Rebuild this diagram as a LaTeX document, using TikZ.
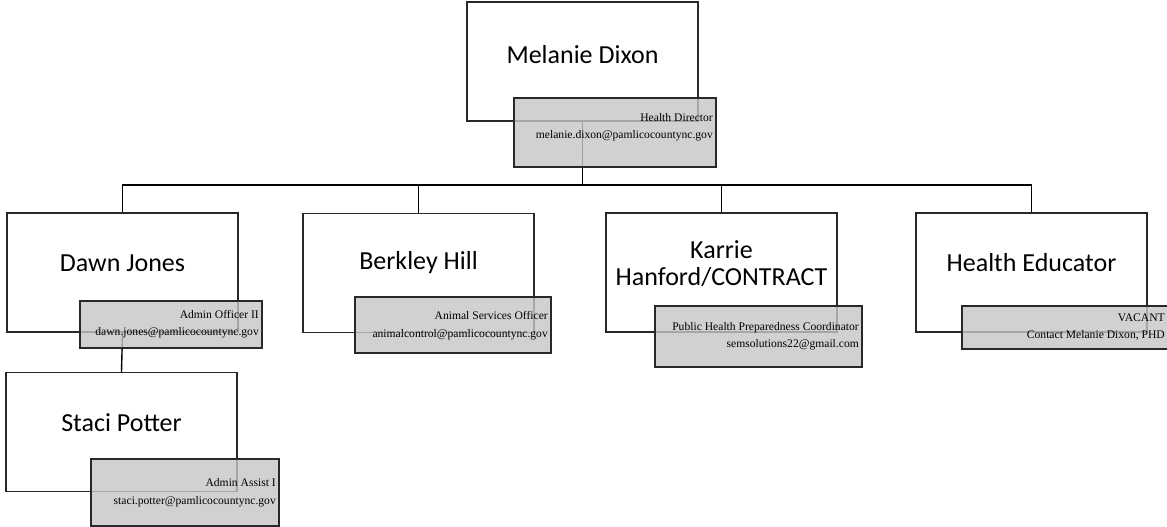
\documentclass[tikz,border=0pt]{standalone}
\usepackage{fontspec}
\setmainfont{Liberation Serif}
\newfontfamily\namefont{Carlito}
\definecolor{boxline}{RGB}{40,40,40}
\definecolor{titlegray}{RGB}{198,198,198}

\begin{document}
\begin{tikzpicture}[x=1pt,y=-1pt,
    person/.style={draw=boxline, line width=1.4pt, fill=white, rectangle, inner sep=0pt,
      minimum width=231pt, minimum height=119pt},
    namelabel/.style={font=\namefont\fontsize{26}{27}\selectfont, align=center, inner sep=0pt},
    titlebox/.style={draw=boxline, line width=1.4pt, fill=titlegray, fill opacity=0.8,
      rectangle, inner sep=0pt},
    titlelabel/.style={font=\fontsize{11.6}{17.5}\selectfont, align=right, anchor=east, inner sep=0pt},
    link/.style={black, line width=1.4pt}]
    \useasboundingbox (0,0) rectangle (1167,527);
    \clip (0,0) rectangle (1167,527);
    % First, the white boxes for each person
    \node[person] (dixon) at (582.5,61.5) {};
    \node[person] (jones) at (122.5,272.5) {};
    \node[person] (hill) at (418.5,273) {};
    \node[person] (hanford) at (721.5,272.5) {};
    \node[person] (educator) at (1031.5,272.5) {};
    \node[person] (potter) at (121.5,432) {};
    \coordinate (bus) at (582.5,185);
    % Now draw the lines
    \draw[link] (dixon.south) -- (bus) -| (jones.north);
    \draw[link] (bus) -| (hill.north);
    \draw[link] (bus) -| (hanford.north);
    \draw[link] (bus) -| (educator.north);
    \draw[link] (jones.south) -- (potter.north);
    % Grey boxes with the job titles
    \node[titlebox, minimum width=202pt, minimum height=69pt] (dixontitle) at (615,132.5) {};
    \node[titlebox, minimum width=182pt, minimum height=47pt] (jonestitle) at (171,324.5) {};
    \node[titlebox, minimum width=196pt, minimum height=56pt] (hilltitle) at (453,325) {};
    \node[titlebox, minimum width=207pt, minimum height=61pt] (hanfordtitle) at (758.5,336.5) {};
    \node[titlebox, minimum width=207pt, minimum height=43pt] (educatortitle) at (1065.5,327.5) {};
    \node[titlebox, minimum width=188pt, minimum height=67pt] (pottertitle) at (185,492.5) {};
    % Names
    \node[namelabel] (dixonname) at (582.5,55) {Melanie Dixon};
    \node[namelabel] (jonesname) at (122.5,263) {Dawn Jones};
    \node[namelabel] (hillname) at (418.5,263) {Berkley Hill};
    \node[namelabel] (hanfordname) at (721.5,263.5) {Karrie\\Hanford/CONTRACT};
    \node[namelabel] (educatorname) at (1031.5,263) {Health Educator};
    \node[namelabel] (pottername) at (121.5,423) {Staci Potter};
    % Titles and e-mail
    \node[titlelabel] (dixonjob) at (713,127) {Health Director\\melanie.dixon@pamlicocountync.gov};
    \node[titlelabel] (jonesjob) at (259,324) {Admin Officer II\\dawn.jones@pamlicocountync.gov};
    \node[titlelabel] (hilljob) at (548,325.5) {Animal Services Officer\\animalcontrol@pamlicocountync.gov};
    \node[titlelabel] (hanfordjob) at (859,336) {Public Health Preparedness Coordinator\\semsolutions22@gmail.com};
    \node[titlelabel] (educatorjob) at (1165,327) {VACANT\\Contact Melanie Dixon, PHD};
    \node[titlelabel] (potterjob) at (276,492.5) {Admin Assist I\\staci.potter@pamlicocountync.gov};
\end{tikzpicture}
\end{document}
